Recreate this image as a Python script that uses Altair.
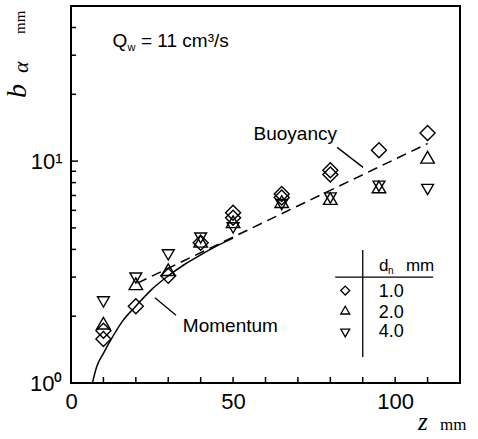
import altair as alt
import pandas as pd

SANS = "Liberation Sans"
SERIF = "Liberation Serif"

# Measured jet width b_alpha (mm) against height z (mm), per nozzle diameter d_n
z_d1 = [10, 10, 20, 30, 40, 50, 50, 65, 65, 80, 80, 95, 110]
b_d1 = [1.58, 1.72, 2.22, 3.04, 4.29, 5.85, 5.55, 7.1, 6.85, 9.1, 8.7, 11.2, 13.4]
z_d2 = [10, 20, 30, 40, 50, 65, 80, 95, 110]
b_d2 = [1.86, 2.8, 3.24, 4.35, 5.33, 6.57, 6.78, 7.65, 10.4]
z_d4 = [10, 20, 30, 40, 50, 65, 80, 95, 110]
b_d4 = [2.32, 2.97, 3.78, 4.5, 5.0, 6.37, 6.82, 7.7, 7.45]

# Momentum-dominated prediction (solid)
z_mom = [6.6, 7.9, 10, 13, 16, 20, 25, 30, 35, 40, 45, 50]
b_mom = [1.0, 1.18, 1.36, 1.63, 1.91, 2.22, 2.65, 3.04, 3.42, 3.78, 4.15, 4.5]
# Buoyancy-dominated prediction (dashed)
z_buo = [20.5, 110]
b_buo = [2.82, 12.0]

diameters = ["1.0", "2.0", "4.0"]
shapes = ["diamond", "triangle-up", "triangle-down"]

x_labels = [0, 50, 100]
y_labels = [1, 10]
x_minor = [10, 20, 30, 40, 50, 60, 70, 80, 90, 100, 110]
y_minor = [2, 3, 4, 5, 6, 7, 8, 9, 20, 30, 40]
y_major = [10]

# Annotation texts and their leader lines (data coordinates)
note_text = ["Buoyancy", "Momentum"]
note_z = [56.3, 34.5]
note_b = [12.45, 1.70]
lead_z = [82.1, 25.9]
lead_b = [11.53, 2.42]
lead_z2 = [90.1, 32.4]
lead_b2 = [9.37, 2.02]

# Key table
key_sym_z = 84.6
key_sym_b = [2.61, 2.13, 1.68]
key_txt_z = 94.9
key_txt_b = [2.58, 2.07, 1.69]
key_head_z = 95.0
key_head_b = 3.37

W, H = 389, 377

xs = alt.Scale(domain=[0, 120], nice=False, zero=False)
ys = alt.Scale(type="log", domain=[1, 50], nice=False)

x_axis = alt.Axis(values=x_labels, title=None, grid=False, ticks=False, domain=False, labelFlush=False,
                  labelFontSize=22, labelFont=SANS, labelColor="black", labelPadding=8)
y_axis = alt.Axis(values=y_labels, title=None, grid=False, ticks=False, domain=False, labelFlush=False,
                  labelFontSize=22, labelFont=SANS, labelColor="black", labelPadding=9,
                  labelExpr="datum.value == 1 ? '10⁰' : '10¹'")


def X(f):
    return alt.X(f, type="quantitative", scale=xs, axis=x_axis)


def Y(f):
    return alt.Y(f, type="quantitative", scale=ys, axis=y_axis)


pts = pd.DataFrame({
    "z": z_d1 + z_d2 + z_d4,
    "b": b_d1 + b_d2 + b_d4,
    "dn": ["1.0"] * len(z_d1) + ["2.0"] * len(z_d2) + ["4.0"] * len(z_d4),
})

points = alt.Chart(pts).mark_point(filled=False, color="black", strokeWidth=1.4, opacity=1).encode(
    x=X("z"), y=Y("b"),
    shape=alt.Shape("dn:N", scale=alt.Scale(domain=diameters, range=shapes), legend=None),
    size=alt.Size("dn:N", scale=alt.Scale(domain=diameters, range=[225, 140, 140]), legend=None),
)

mom = alt.Chart(pd.DataFrame({"z": z_mom, "b": b_mom})).mark_line(
    color="black", strokeWidth=1.5, interpolate="monotone", clip=True
).encode(x=X("z"), y=Y("b"))

buo = alt.Chart(pd.DataFrame({"z": z_buo, "b": b_buo})).mark_line(
    color="black", strokeWidth=1.5, strokeDash=[10, 6]
).encode(x=X("z"), y=Y("b"))

# inward ticks along the bottom and left frame
xt = alt.Chart(pd.DataFrame({"z": x_minor})).mark_rule(color="black", strokeWidth=1.5).encode(
    x=X("z"), y=alt.value(H), y2=alt.value(H - 6))

yt = alt.Chart(pd.DataFrame({"b": y_minor})).mark_rule(color="black", strokeWidth=1.5).encode(
    y=Y("b"), x=alt.value(0), x2=alt.value(5))

ytm = alt.Chart(pd.DataFrame({"b": y_major})).mark_rule(color="black", strokeWidth=1.5).encode(
    y=Y("b"), x=alt.value(0), x2=alt.value(7))

notes = alt.Chart(pd.DataFrame({"z": note_z, "b": note_b, "t": note_text})).mark_text(
    font=SANS, fontSize=19, align="left", baseline="alphabetic", color="black"
).encode(x=X("z"), y=Y("b"), text="t:N")

leaders = alt.Chart(pd.DataFrame({"z": lead_z, "b": lead_b, "z2": lead_z2, "b2": lead_b2})).mark_rule(
    color="black", strokeWidth=1.3
).encode(x=X("z"), y=Y("b"), x2="z2:Q", y2="b2:Q")

# flow rate label
q_df = pd.DataFrame({"z": [12.8], "b": [32.8]})
q_main = alt.Chart(q_df).mark_text(font=SANS, fontSize=19, align="left", baseline="alphabetic", color="black").encode(
    x=X("z"), y=Y("b"), text=alt.value("Q"))
q_sub = alt.Chart(q_df).mark_text(font=SANS, fontSize=11, align="left", baseline="alphabetic", color="black",
                                  dx=15, dy=4).encode(x=X("z"), y=Y("b"), text=alt.value("w"))
q_rest = alt.Chart(q_df).mark_text(font=SANS, fontSize=19, align="left", baseline="alphabetic", color="black",
                                   dx=28.5).encode(x=X("z"), y=Y("b"), text=alt.value("= 11 cm³/s"))

# key table
key_lines = alt.Chart(pd.DataFrame({"z": [90, 81.5], "b": [1.31, 3.0], "z2": [90, 111.7], "b2": [3.98, 3.0]})).mark_rule(
    color="black", strokeWidth=1.3
).encode(x=X("z"), y=Y("b"), x2="z2:Q", y2="b2:Q")

key_sym = alt.Chart(pd.DataFrame({"z": [key_sym_z] * 3, "b": key_sym_b, "dn": diameters})).mark_point(
    filled=False, color="black", strokeWidth=1.3, opacity=1
).encode(
    x=X("z"), y=Y("b"),
    shape=alt.Shape("dn:N", scale=alt.Scale(domain=diameters, range=shapes), legend=None),
    size=alt.SizeValue(80),
)

key_txt = alt.Chart(pd.DataFrame({"z": [key_txt_z] * 3, "b": key_txt_b, "dn": diameters})).mark_text(
    font=SANS, fontSize=18, align="left", baseline="middle", color="black"
).encode(x=X("z"), y=Y("b"), text="dn:N")

head_df = pd.DataFrame({"z": [key_head_z], "b": [key_head_b]})
head_d = alt.Chart(head_df).mark_text(font=SANS, fontSize=17, align="left", baseline="middle", color="black").encode(
    x=X("z"), y=Y("b"), text=alt.value("d"))
head_n = alt.Chart(head_df).mark_text(font=SANS, fontSize=10, align="left", baseline="middle", color="black",
                                      dx=9, dy=5).encode(x=X("z"), y=Y("b"), text=alt.value("n"))
head_mm = alt.Chart(head_df).mark_text(font=SANS, fontSize=17, align="left", baseline="middle", color="black",
                                       dx=27).encode(x=X("z"), y=Y("b"), text=alt.value("mm"))

# axis titles
one = pd.DataFrame({"k": [0]})
yt_b = alt.Chart(one).mark_text(font=SERIF, fontStyle="italic", fontSize=28, angle=270, align="left",
                                baseline="alphabetic", color="black").encode(
    x=alt.value(-45), y=alt.value(92), text=alt.value("b"))
yt_a = alt.Chart(one).mark_text(font=SERIF, fontStyle="italic", fontSize=22, angle=270, align="left",
                                baseline="alphabetic", color="black").encode(
    x=alt.value(-43), y=alt.value(67), text=alt.value("α"))
yt_mm = alt.Chart(one).mark_text(font=SERIF, fontSize=15, angle=270, align="left",
                                 baseline="alphabetic", color="black").encode(
    x=alt.value(-46), y=alt.value(28), text=alt.value("mm"))
xt_z = alt.Chart(one).mark_text(font=SERIF, fontStyle="italic", fontSize=25, align="left",
                                baseline="alphabetic", color="black").encode(
    x=alt.value(347), y=alt.value(424), text=alt.value("z"))
xt_mm = alt.Chart(one).mark_text(font=SERIF, fontSize=17, align="left",
                                 baseline="alphabetic", color="black").encode(
    x=alt.value(369), y=alt.value(424), text=alt.value("mm"))

chart = alt.layer(
    xt, yt, ytm, mom, buo, points, leaders, notes, q_main, q_sub, q_rest,
    key_lines, key_sym, key_txt, head_d, head_n, head_mm,
    yt_b, yt_a, yt_mm, xt_z, xt_mm,
).properties(
    width=W, height=H,
    autosize=alt.AutoSizeParams(type="none"),
    padding={"left": 71, "top": 6, "right": 18, "bottom": 56},
    background="white",
).configure_view(stroke="black", strokeWidth=2)

chart.save("out.html", embed_options={"renderer": "svg", "actions": False})
